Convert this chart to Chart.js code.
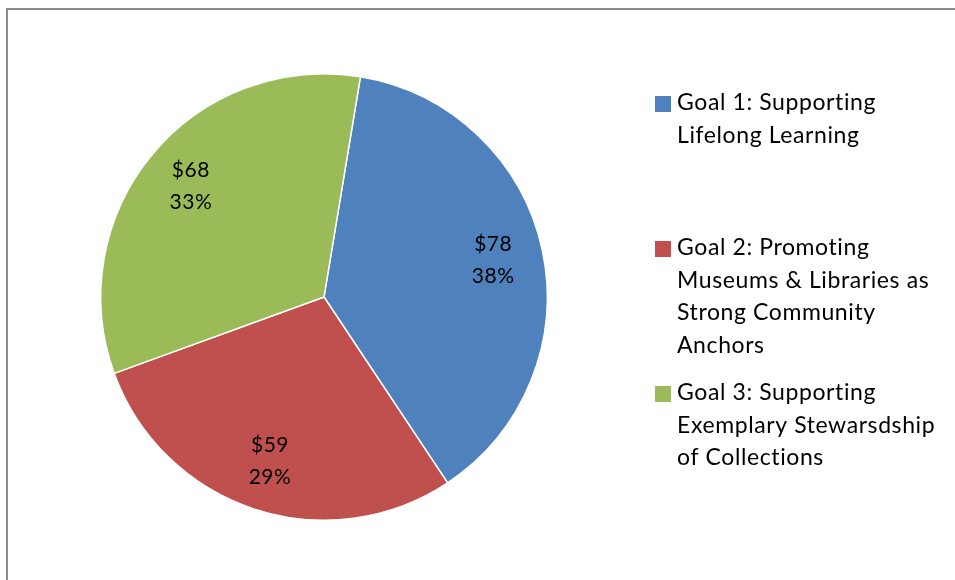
<!DOCTYPE html>
<html>
<head>
<meta charset="utf-8">
<script src="https://cdn.jsdelivr.net/npm/chart.js@4.4.1/dist/chart.umd.min.js"></script>
<style>
  html, body { margin: 0; padding: 0; background: #fff; overflow: hidden; }
  #wrap { position: relative; width: 955px; height: 580px; }
  #frame {
    position: absolute; left: 6px; top: 8px; width: 1000px; height: 1000px;
    border-left: 2px solid #8c8c8c; border-top: 2px solid #8c8c8c;
    box-sizing: border-box; pointer-events: none;
  }
  canvas { position: absolute; left: 0; top: 0; }
</style>
</head>
<body>
<div id="wrap">
  <canvas id="pieChart" width="955" height="580"></canvas>
  <div id="frame"></div>
</div>
<script>
const labels = [
  ["Goal 1: Supporting", "Lifelong Learning"],
  ["Goal 2: Promoting", "Museums & Libraries as", "Strong Community", "Anchors"],
  ["Goal 3: Supporting", "Exemplary Stewarsdship", "of Collections"],
];
const amounts = [78, 59, 68];
const percentLabels = ["38%", "29%", "33%"];
const colors = ["#4F81BD", "#C0504D", "#9BBB59"];

const FONT = "Lato, Carlito, Calibri, sans-serif";

const dataLabelPlugin = {
  id: "dataLabels",
  afterDatasetsDraw(chart) {
    const { ctx } = chart;
    const meta = chart.getDatasetMeta(0);
    ctx.save();
    ctx.font = `21px ${FONT}`;
    ctx.letterSpacing = "0.5px";
    ctx.fillStyle = "#000";
    ctx.textAlign = "center";
    ctx.textBaseline = "middle";
    meta.data.forEach((arc, i) => {
      const { x, y, startAngle, endAngle, outerRadius } = arc.getProps(
        ["x", "y", "startAngle", "endAngle", "outerRadius"], true);
      const mid = (startAngle + endAngle) / 2;
      const r = outerRadius * 0.775;
      const cx = x + Math.cos(mid) * r;
      const cy = y + Math.sin(mid) * r;
      ctx.fillText("$" + amounts[i], cx, cy - 16);
      ctx.fillText(percentLabels[i], cx, cy + 16);
    });
    ctx.restore();
  },
};

const legendPlugin = {
  id: "sideLegend",
  afterDraw(chart) {
    const { ctx } = chart;
    const boxX = 655;
    const textX = 677;
    const firstY = 103;
    const entryGap = 145;
    const lineH = 32.5;
    ctx.save();
    ctx.font = `23px ${FONT}`;
    ctx.letterSpacing = "0.6px";
    ctx.textAlign = "left";
    ctx.textBaseline = "middle";
    labels.forEach((lines, i) => {
      const y0 = firstY + i * entryGap;
      ctx.fillStyle = colors[i];
      ctx.fillRect(boxX, y0 - 7, 16, 16);
      ctx.fillStyle = "#000";
      lines.forEach((line, j) => {
        ctx.fillText(line, textX, y0 + j * lineH);
      });
    });
    ctx.restore();
  },
};

new Chart(document.getElementById("pieChart"), {
  type: "pie",
  data: {
    labels: labels.map((l) => l.join(" ")),
    datasets: [
      {
        data: amounts,
        backgroundColor: colors,
        borderColor: "#ffffff",
        borderWidth: 1.5,
      },
    ],
  },
  options: {
    responsive: false,
    animation: false,
    rotation: 9.4,
    layout: {
      padding: { left: 100, right: 407, top: 73, bottom: 59 },
    },
    plugins: {
      legend: { display: false },
      tooltip: { enabled: false },
    },
  },
  plugins: [dataLabelPlugin, legendPlugin],
});
</script>
</body>
</html>
